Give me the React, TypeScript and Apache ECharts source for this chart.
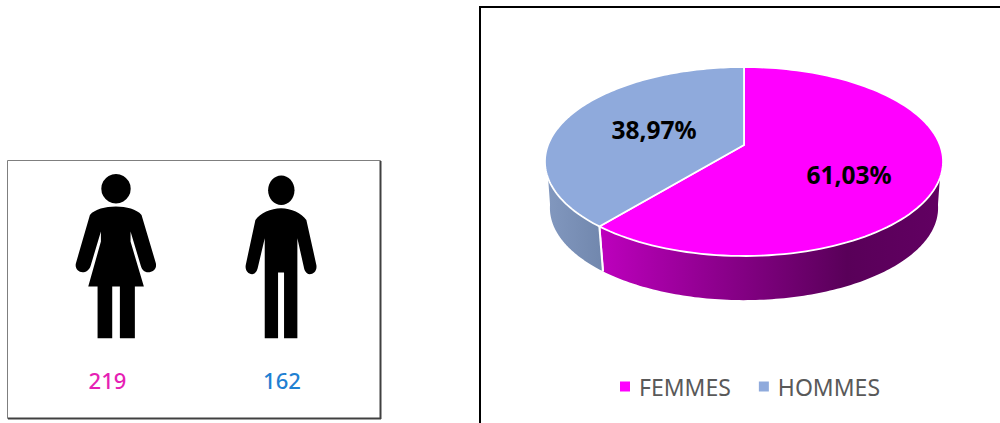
import React, { useEffect, useRef } from "react";
import * as echarts from "echarts";

const pieNames = ["FEMMES", "HOMMES"];
const pieValues = [61.03, 38.97];
const pieLabels = ["61,03%", "38,97%"];
const pieColors = ["#ff00ff", "#8faadc"];
const peopleCounts = ["219", "162"];
const peopleColors = ["#e61fb4", "#1f80d2"];

const FONT = "'Noto Sans', sans-serif";

// perspective of the tilted disc (page pixels)
const CX = 744;
const K = 196;
const PERSP = 0.1746;
const APEX_Y = 145;
const SLOPE = -66.3;
const MID_Y = 161.5;
const BASE_Y = 208;
const BASE_SCALE = 0.975;
const DEG = Math.PI / 180;

const project = (u: number, v: number) => {
  const d = 1 + PERSP * v;
  return [CX + (K * u) / d, (SLOPE * v + APEX_Y) / d];
};
const topPoint = (a: number) => project(Math.sin(a), Math.cos(a));
const basePoint = (a: number) => {
  const [x, y] = topPoint(a);
  return [CX + BASE_SCALE * (x - CX), BASE_Y + BASE_SCALE * (y - MID_Y)];
};
const arcAngles = (a0: number, a1: number) => {
  const out: number[] = [];
  const n = 120;
  for (let i = 0; i <= n; i++) out.push(a0 + ((a1 - a0) * i) / n);
  return out;
};

const wallFills: any[] = [
  {
    type: "linear", x: 600, y: 0, x2: 943, y2: 0, global: true,
    colorStops: [
      { offset: 0, color: "#bd00bd" },
      { offset: 0.35, color: "#8c008c" },
      { offset: 0.72, color: "#590059" },
      { offset: 1, color: "#620062" },
    ],
  },
  {
    type: "linear", x: 546, y: 0, x2: 603, y2: 0, global: true,
    colorStops: [
      { offset: 0, color: "#8298bf" },
      { offset: 1, color: "#7187ad" },
    ],
  },
];
const labelAnchors = [[849, 174], [654, 129]];

const womanPath =
  "M348 170C380 170 410 178 425 195L468 340C472 358 458 367 445 367C433 367 426 358 423 348L392 245L392 275L432 410L405 410L405 565L360 565L360 410L337 410L337 565L293 565L293 410L265 410L303 275L303 245L272 348C268 360 258 367 248 367C235 367 224 355 228 340L270 195C285 178 316 170 348 170Z";
const manPath =
  "M844 175C875 175 905 190 920 210L950 345C953 362 942 373 930 373C920 373 914 362 912 350L893 265L893 565L853 565L853 368L835 368L835 565L795 565L795 265L775 350C773 362 767 373 757 373C745 373 735 362 738 345L767 210C782 190 813 175 844 175Z";
echarts.graphic.registerShape("womanFigure", echarts.graphic.extendPath(womanPath, {}));
echarts.graphic.registerShape("manFigure", echarts.graphic.extendPath(manPath, {}));

export default function App() {
  const ref = useRef<HTMLDivElement>(null);
  useEffect(() => {
    const chart = echarts.init(ref.current!, null, { renderer: "svg" });
    const total = pieValues.reduce((a, b) => a + b, 0);
    const renderSlice = (params: any, api: any) => {
      const i = params.seriesIndex;
      const before = pieValues.slice(0, i).reduce((a, b) => a + b, 0);
      const a0 = (before / total) * Math.PI * 2;
      const a1 = a0 + (api.value(0) / total) * Math.PI * 2;
      const angles = arcAngles(a0, a1);
      // the wall's visible rim runs to the silhouette, then straight down to the base
      const rimAngles = i === 0 ? arcAngles(110 * DEG, a1) : arcAngles(a0, 250 * DEG);
      const baseAngles = i === 0 ? arcAngles(98 * DEG, a1) : arcAngles(a0, 262 * DEG);
      const wall = [
        ...rimAngles.map(topPoint),
        ...baseAngles.slice().reverse().map(basePoint),
      ];
      const seamAngle = i === 0 ? a1 : a0;
      return {
        type: "group",
        children: [
          { type: "polygon", shape: { points: wall }, style: { fill: wallFills[i] } },
          {
            type: "line",
            shape: {
              x1: topPoint(seamAngle)[0], y1: topPoint(seamAngle)[1],
              x2: basePoint(seamAngle)[0], y2: basePoint(seamAngle)[1],
            },
            style: { stroke: "#ffffff", lineWidth: 2 },
          },
          {
            type: "polygon",
            shape: { points: [project(0, 0), ...angles.map(topPoint)] },
            style: { fill: pieColors[i], stroke: "#ffffff", lineWidth: 1.8 },
          },
          {
            type: "text",
            z2: 10,
            style: {
              text: pieLabels[i],
              x: labelAnchors[i][0],
              y: labelAnchors[i][1],
              align: "center",
              verticalAlign: "middle",
              font: `bold 24.5px ${FONT}`,
              fill: "#000000",
            },
          },
        ],
      };
    };
    chart.setOption({
      animation: false,
      backgroundColor: "#ffffff",
      legend: {
        left: 620,
        top: 375,
        icon: "rect",
        itemWidth: 10,
        itemHeight: 10,
        itemGap: 28,
        padding: 0,
        selectedMode: false,
        data: pieNames,
        textStyle: { fontFamily: FONT, fontSize: 23, color: "#595959", padding: [0, 0, 0, 4] },
      },
      series: pieNames.map((name, i) => ({
        type: "custom",
        name,
        coordinateSystem: "none",
        itemStyle: { color: pieColors[i] },
        renderItem: renderSlice,
        data: [[pieValues[i]]],
      })),
      graphic: [
        { type: "rect", shape: { x: 7.5, y: 160.5, width: 373, height: 258 }, style: { fill: "none", stroke: "#7f7f7f", lineWidth: 1 }, silent: true },
        { type: "line", shape: { x1: 8, y1: 418.5, x2: 381, y2: 418.5 }, style: { stroke: "#404040", lineWidth: 2 }, silent: true },
        { type: "line", shape: { x1: 380.5, y1: 161, x2: 380.5, y2: 419 }, style: { stroke: "#404040", lineWidth: 2 }, silent: true },
        { type: "line", shape: { x1: 479, y1: 7, x2: 1000, y2: 7 }, style: { stroke: "#000000", lineWidth: 2 }, silent: true },
        { type: "line", shape: { x1: 480, y1: 6, x2: 480, y2: 423 }, style: { stroke: "#000000", lineWidth: 2 }, silent: true },
        { type: "circle", shape: { cx: 116, cy: 188.7, r: 14.7 }, style: { fill: "#000000" }, silent: true },
        { type: "womanFigure", x: 0, y: 150, scaleX: 1 / 3, scaleY: 1 / 3, style: { fill: "#000000" }, silent: true },
        { type: "ellipse", shape: { cx: 281.3, cy: 190.3, rx: 13.2, ry: 14.7 }, style: { fill: "#000000" }, silent: true },
        { type: "manFigure", x: 0, y: 150, scaleX: 1 / 3, scaleY: 1 / 3, style: { fill: "#000000" }, silent: true },
        { type: "text", style: { text: peopleCounts[0], x: 107.5, y: 380, align: "center", verticalAlign: "middle", font: `500 22px ${FONT}`, fill: peopleColors[0] } },
        { type: "text", style: { text: peopleCounts[1], x: 282, y: 380, align: "center", verticalAlign: "middle", font: `500 22px ${FONT}`, fill: peopleColors[1] } },
      ],
    });
    return () => chart.dispose();
  }, []);
  return <div ref={ref} style={{ position: "fixed", left: 0, top: 0, width: 1000, height: 423 }} />;
}
